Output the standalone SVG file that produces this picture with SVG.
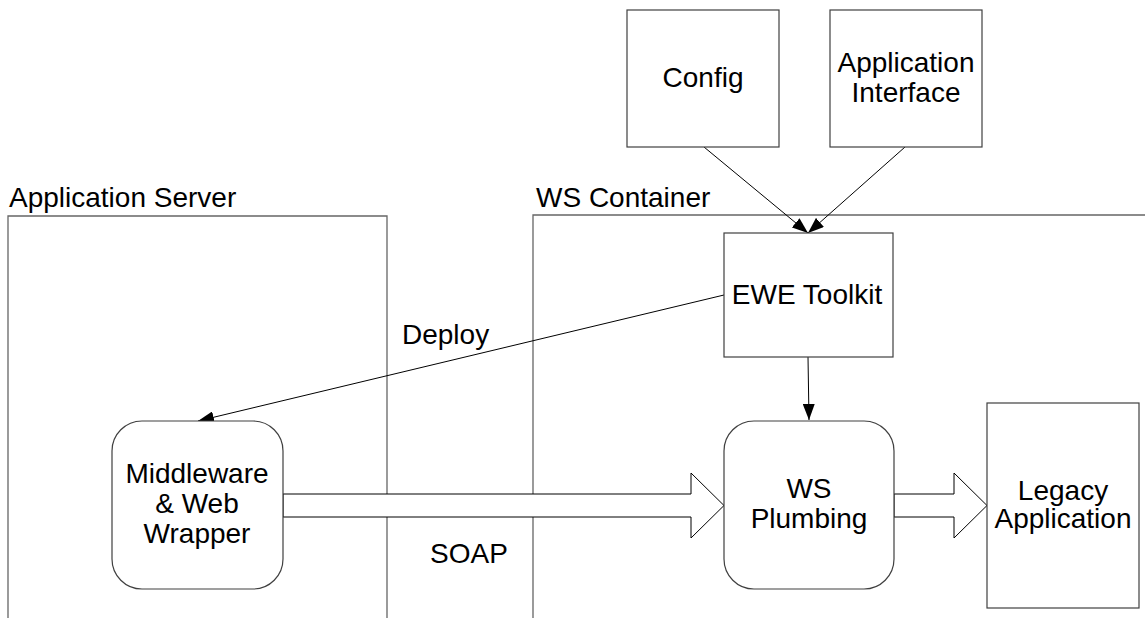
<svg xmlns="http://www.w3.org/2000/svg" width="1145" height="618" viewBox="0 0 1145 618">
<style>
text{font-family:"Liberation Sans",Arial,sans-serif;font-size:28px;fill:#000;text-anchor:middle}
.lbl{text-anchor:start}
.cont{fill:none;stroke:#666;stroke-width:1.3}
.node{fill:#fff;stroke:#404040;stroke-width:1.2}
.conn{fill:none;stroke:#000;stroke-width:1}
.block{fill:#fff;stroke:#000;stroke-width:1}
</style>
<defs>
<marker id="ah" viewBox="0 0 16 12" refX="16" refY="6" markerWidth="16" markerHeight="12" markerUnits="userSpaceOnUse" orient="auto">
<path d="M0,0 L16,6 L0,12 Z" fill="#000"/>
</marker>
</defs>
<g id="app-server">
<path class="cont" d="M8,618 V216 H387 V618"/>
<text class="lbl" x="9" y="207">Application Server</text>
</g>
<g id="ws-container">
<path class="cont" d="M533,618 V215 H1146"/>
<text class="lbl" x="536" y="207">WS Container</text>
</g>
<g id="connectors">
<line class="conn" x1="704" y1="147" x2="808" y2="233" marker-end="url(#ah)"/>
<line class="conn" x1="905" y1="147" x2="808" y2="233" marker-end="url(#ah)"/>
<line class="conn" x1="808" y1="357" x2="809" y2="420" marker-end="url(#ah)"/>
<line class="conn" x1="724" y1="295" x2="198" y2="421" marker-end="url(#ah)"/>
<polygon class="block" points="283,494 691,494 691,473 724,505.5 691,538 691,517 283,517"/>
<polygon class="block" points="894,494 954,494 954,473 987,505.5 954,538 954,517 894,517"/>
<text class="lbl" x="402" y="344">Deploy</text>
<text class="lbl" x="430" y="563">SOAP</text>
</g>
<g id="config">
<rect class="node" x="627" y="10" width="152" height="137"/>
<text x="703" y="87">Config</text>
</g>
<g id="app-interface">
<rect class="node" x="830" y="10" width="152" height="137"/>
<text x="906" y="72">Application</text>
<text x="906" y="102">Interface</text>
</g>
<g id="ewe-toolkit">
<rect class="node" x="724" y="233" width="169" height="124"/>
<text x="807" y="304">EWE Toolkit</text>
</g>
<g id="middleware">
<rect class="node" x="112" y="421" width="171" height="168" rx="30" ry="30"/>
<text x="197" y="483">Middleware</text>
<text x="197" y="513">&amp; Web</text>
<text x="197" y="543">Wrapper</text>
</g>
<g id="ws-plumbing">
<rect class="node" x="724" y="421" width="170" height="168" rx="30" ry="30"/>
<text x="809" y="498">WS</text>
<text x="809" y="528">Plumbing</text>
</g>
<g id="legacy">
<rect class="node" x="987" y="403" width="152" height="205"/>
<text x="1063" y="500">Legacy</text>
<text x="1063" y="528">Application</text>
</g>
</svg>
